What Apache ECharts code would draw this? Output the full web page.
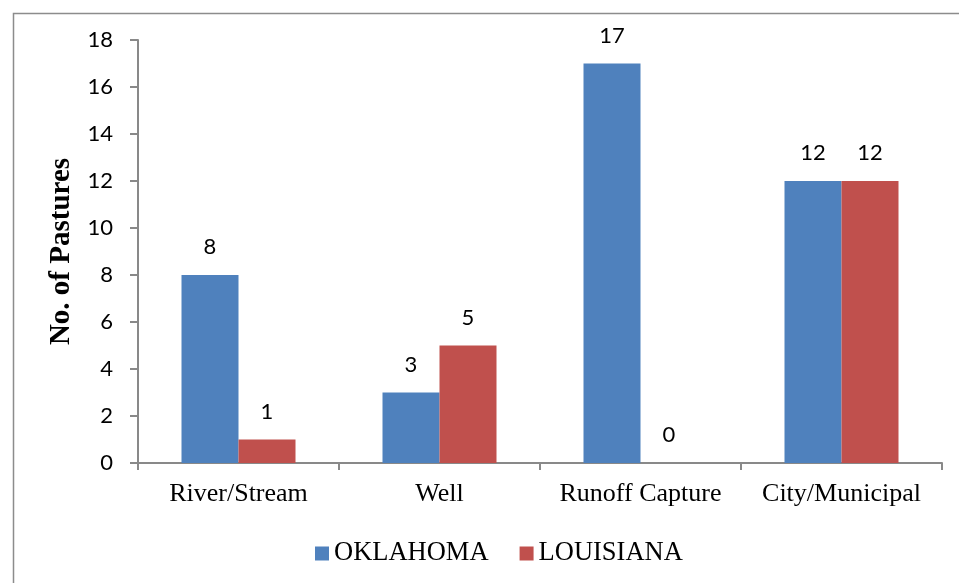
<!DOCTYPE html>
<html>
<head>
<meta charset="utf-8">
<style>
  html, body { margin: 0; padding: 0; background: #ffffff; }
  #chart { width: 959px; height: 583px; }
</style>
<script src="https://cdn.jsdelivr.net/npm/echarts@6/dist/echarts.min.js"></script>
</head>
<body>
<div id="chart"></div>
<script>
// Water source categories and pasture counts per state
const categories = ['River/Stream', 'Well', 'Runoff Capture', 'City/Municipal'];
const oklahoma = [8, 3, 17, 12];
const louisiana = [1, 5, 0, 12];
const seriesNames = ['OKLAHOMA', 'LOUISIANA'];

const chart = echarts.init(document.getElementById('chart'), null, { renderer: 'canvas' });

const axisGray = '#898989';
const valueFont = 'Lato, "Open Sans", sans-serif';
const serifFont = '"Liberation Serif", "Times New Roman", serif';

const labelStyle = {
  show: true,
  position: 'top',
  distance: 17,
  color: '#000000',
  fontFamily: valueFont,
  fontSize: 22
};

chart.setOption({
  animation: false,
  backgroundColor: '#ffffff',
  graphic: [{
    type: 'rect',
    left: 11,
    top: 11,
    shape: { width: 960, height: 580 },
    style: { fill: 'none', stroke: '#8c8c8c', lineWidth: 1.5 },
    silent: true
  }],
  grid: { left: 138, right: 17, top: 40, bottom: 120, containLabel: false },
  legend: {
    data: seriesNames,
    left: 310,
    top: 535,
    icon: 'rect',
    itemWidth: 14,
    itemHeight: 14,
    itemGap: 31,
    textStyle: { fontFamily: serifFont, fontSize: 26.5, color: '#000000' }
  },
  xAxis: {
    type: 'category',
    data: categories,
    axisLine: { lineStyle: { color: axisGray, width: 2 } },
    axisTick: { show: true, alignWithLabel: false, length: 7, lineStyle: { color: axisGray, width: 2 } },
    axisLabel: { interval: 0, margin: 18, color: '#000000', fontFamily: serifFont, fontSize: 26 }
  },
  yAxis: {
    type: 'value',
    min: 0,
    max: 18,
    interval: 2,
    name: 'No. of Pastures',
    nameLocation: 'middle',
    nameGap: 62,
    nameTextStyle: { fontFamily: serifFont, fontSize: 29, fontWeight: 'bold', color: '#000000' },
    axisLine: { show: true, lineStyle: { color: axisGray, width: 2 } },
    axisTick: { show: true, length: 8, lineStyle: { color: axisGray, width: 2 } },
    splitLine: { show: false },
    axisLabel: { margin: 25, color: '#000000', fontFamily: valueFont, fontSize: 22 }
  },
  series: [
    {
      name: seriesNames[0],
      type: 'bar',
      data: oklahoma,
      barWidth: 57,
      barGap: '0%',
      itemStyle: { color: '#4F81BD' },
      label: labelStyle
    },
    {
      name: seriesNames[1],
      type: 'bar',
      data: louisiana,
      barWidth: 57,
      barGap: '0%',
      itemStyle: { color: '#C0504D' },
      label: labelStyle
    }
  ]
});
</script>
</body>
</html>
